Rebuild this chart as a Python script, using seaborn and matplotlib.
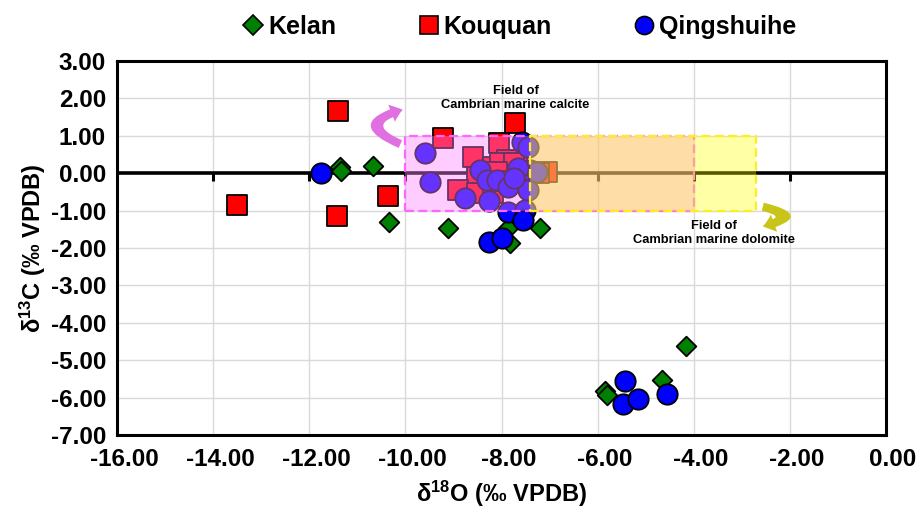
import matplotlib
matplotlib.use("Agg")
import matplotlib.pyplot as plt
import matplotlib.patches as mpatches
from matplotlib.lines import Line2D
from matplotlib.ticker import FuncFormatter, FixedLocator
from matplotlib.transforms import ScaledTranslation
import seaborn as sns
import pandas as pd

# --- data: oxygen / carbon isotope pairs (‰ VPDB) ---
kelan_d18o = [-11.37, -11.33, -10.68, -10.35, -9.12, -7.86, -7.82, -7.20,
              -4.17, -4.67, -5.85, -5.80]
kelan_d13c = [0.16, 0.07, 0.20, -1.30, -1.47, -1.47, -1.87, -1.46,
              -4.62, -5.53, -5.82, -5.93]

kouquan_d18o = [-13.51, -11.40, -11.43, -10.37, -9.22, -7.72, -8.05, -8.60,
                -8.17, -7.89, -7.68, -8.52, -8.90, -8.52, -8.17, -7.06,
                -7.23, -8.03, -7.75, -8.10, -7.95]
kouquan_d13c = [-0.85, 1.67, -1.14, -0.60, 0.93, 1.35, 0.80, 0.44,
                0.17, 0.35, 0.17, -0.09, -0.45, -0.54, -0.54, 0.04,
                0.00, 0.28, 0.26, 0.04, -0.20]

qing_d18o = [-11.76, -9.59, -9.49, -8.76, -8.27, -8.45, -8.31, -8.10,
             -7.86, -7.58, -7.58, -7.44, -7.41, -7.44, -7.27, -7.65,
             -7.75, -7.86, -7.51, -7.56, -8.25, -8.00,
             -5.43, -5.48, -5.17, -4.55]
qing_d13c = [0.01, 0.53, -0.23, -0.67, -0.73, 0.09, -0.18, -0.18,
             -0.36, -0.14, 0.84, 0.71, 0.09, -0.45, 0.04, 0.13,
             -0.14, -1.03, -0.98, -1.25, -1.83, -1.74,
             -5.56, -6.17, -6.05, -5.91]

series_names = ["Kelan", "Kouquan", "Qingshuihe"]
x_ticks = [-16, -14, -12, -10, -8, -6, -4, -2, 0]
y_ticks = [3, 2, 1, 0, -1, -2, -3, -4, -5, -6, -7]

# reference fields (δ18O range, δ13C range)
calcite_field = (-10.0, -4.0, -1.0, 1.0)
dolomite_field = (-7.4, -2.7, -1.0, 1.0)

# --- style ---
sns.set_style("white")
plt.rcParams["font.family"] = ["Liberation Sans", "DejaVu Sans"]
plt.rcParams["font.weight"] = "bold"
plt.rcParams["mathtext.fontset"] = "custom"
plt.rcParams["mathtext.rm"] = "Liberation Sans:bold"
plt.rcParams["mathtext.bf"] = "Liberation Sans:bold"
plt.rcParams["mathtext.it"] = "Liberation Sans:bold"
for key in ("text.color", "axes.labelcolor", "xtick.color", "ytick.color"):
    plt.rcParams[key] = "black"

fig = plt.figure(figsize=(9.21, 5.08), dpi=100)
ax = fig.add_axes([117 / 921, 1 - 435 / 508, (886 - 117) / 921, (435 - 61) / 508])

frames = {
    "Kelan": pd.DataFrame({"d18O": kelan_d18o, "d13C": kelan_d13c}),
    "Kouquan": pd.DataFrame({"d18O": kouquan_d18o, "d13C": kouquan_d13c}),
    "Qingshuihe": pd.DataFrame({"d18O": qing_d18o, "d13C": qing_d13c}),
}
styles = {
    "Kelan": dict(marker="D", s=100, color="#008000"),
    "Kouquan": dict(marker="s", s=195, color="#ff0000"),
    "Qingshuihe": dict(marker="o", s=215, color="#0000ff"),
}

for name in series_names:
    st = styles[name]
    sns.scatterplot(data=frames[name], x="d18O", y="d13C", ax=ax,
                    marker=st["marker"], s=st["s"], color=st["color"],
                    edgecolor="black", linewidth=1.3, zorder=3, legend=False)

# axes limits, grid, frame
ax.set_xlim(-16, 0)
ax.set_ylim(-7, 3)
ax.xaxis.set_major_locator(FixedLocator(x_ticks))
ax.yaxis.set_major_locator(FixedLocator(y_ticks))
fmt = FuncFormatter(lambda v, p: f"{v:.2f}")
ax.xaxis.set_major_formatter(fmt)
ax.yaxis.set_major_formatter(fmt)
ax.grid(True, color="#d9d9d9", lw=1.0, zorder=0)
ax.set_axisbelow(True)
for sp in ax.spines.values():
    sp.set_visible(True)
    sp.set_color("black")
    sp.set_linewidth(2.2)
ax.tick_params(axis="both", length=0, labelsize=17.5, labelcolor="black")
ax.tick_params(axis="x", pad=9)
ax.tick_params(axis="y", pad=8)
for lab in ax.get_xticklabels():
    lab.set_fontweight("bold")
    lab.set_transform(lab.get_transform() + ScaledTranslation(0.07, 0, fig.dpi_scale_trans))
for lab in ax.get_yticklabels():
    lab.set_fontweight("bold")

# horizontal axis line through δ13C = 0 with downward tick marks
ax.axhline(0, color="black", lw=2.6, zorder=2)
ax.plot(x_ticks[1:-1], [0] * (len(x_ticks) - 2), ls="none", marker=3,
        ms=6, mew=2.2, color="black", zorder=2)

# reference fields drawn over the points
x0, x1, y0, y1 = calcite_field
ax.add_patch(mpatches.Rectangle((x0, y0), x1 - x0, y1 - y0,
                                facecolor=(1.0, 0.5, 1.0, 0.4),
                                edgecolor="#ff66ff", lw=1.6,
                                linestyle=(0, (4, 2)), zorder=4))
x0, x1, y0, y1 = dolomite_field
ax.add_patch(mpatches.Rectangle((x0, y0), x1 - x0, y1 - y0,
                                facecolor=(1.0, 1.0, 0.0, 0.35),
                                edgecolor="#ffee22", lw=1.6,
                                linestyle=(0, (4, 2)), zorder=5))

# curved pointer arrows
ax.add_patch(mpatches.FancyArrowPatch(
    (-10.05, 0.75), (-10.0, 1.72), connectionstyle="arc3,rad=-1.5",
    arrowstyle=mpatches.ArrowStyle.Simple(head_length=0.7, head_width=1.1, tail_width=0.5),
    mutation_scale=12, color="#e070e0", zorder=6, lw=0))
ax.add_patch(mpatches.FancyArrowPatch(
    (-2.62, -0.88), (-2.62, -1.44), connectionstyle="arc3,rad=-2.2",
    arrowstyle=mpatches.ArrowStyle.Simple(head_length=0.7, head_width=1.1, tail_width=0.5),
    mutation_scale=12, color="#c8c41a", zorder=6, lw=0))

ax.text(-7.71, 2.02, "Field of\nCambrian marine calcite", ha="center", va="center",
        fontsize=9.3, fontweight="bold", linespacing=1.2, zorder=7)
ax.text(-3.58, -1.60, "Field of\nCambrian marine dolomite", ha="center", va="center",
        fontsize=9.3, fontweight="bold", linespacing=1.2, zorder=7)

# axis titles
ax.set_xlabel(r"δ$^{18}$O (‰ VPDB)", fontsize=17, fontweight="bold", labelpad=6)
ax.set_ylabel(r"δ$^{13}$C (‰ VPDB)", fontsize=17, fontweight="bold", labelpad=2)

# legend across the top
handles = [
    Line2D([], [], ls="none", marker="D", markersize=10, markerfacecolor="#008000",
           markeredgecolor="black", markeredgewidth=1.2, label="Kelan"),
    Line2D([], [], ls="none", marker="s", markersize=13, markerfacecolor="#ff0000",
           markeredgecolor="black", markeredgewidth=1.2, label="Kouquan"),
    Line2D([], [], ls="none", marker="o", markersize=13, markerfacecolor="#0000ff",
           markeredgecolor="black", markeredgewidth=1.2, label="Qingshuihe"),
]
fig.legend(handles=handles, loc="center", bbox_to_anchor=(0.563, 1 - 27 / 508),
           ncol=3, frameon=False, handletextpad=0.1, columnspacing=3.2,
           handlelength=1.0, prop={"size": 18, "weight": "bold"})

fig.savefig("out.png", dpi=100)
